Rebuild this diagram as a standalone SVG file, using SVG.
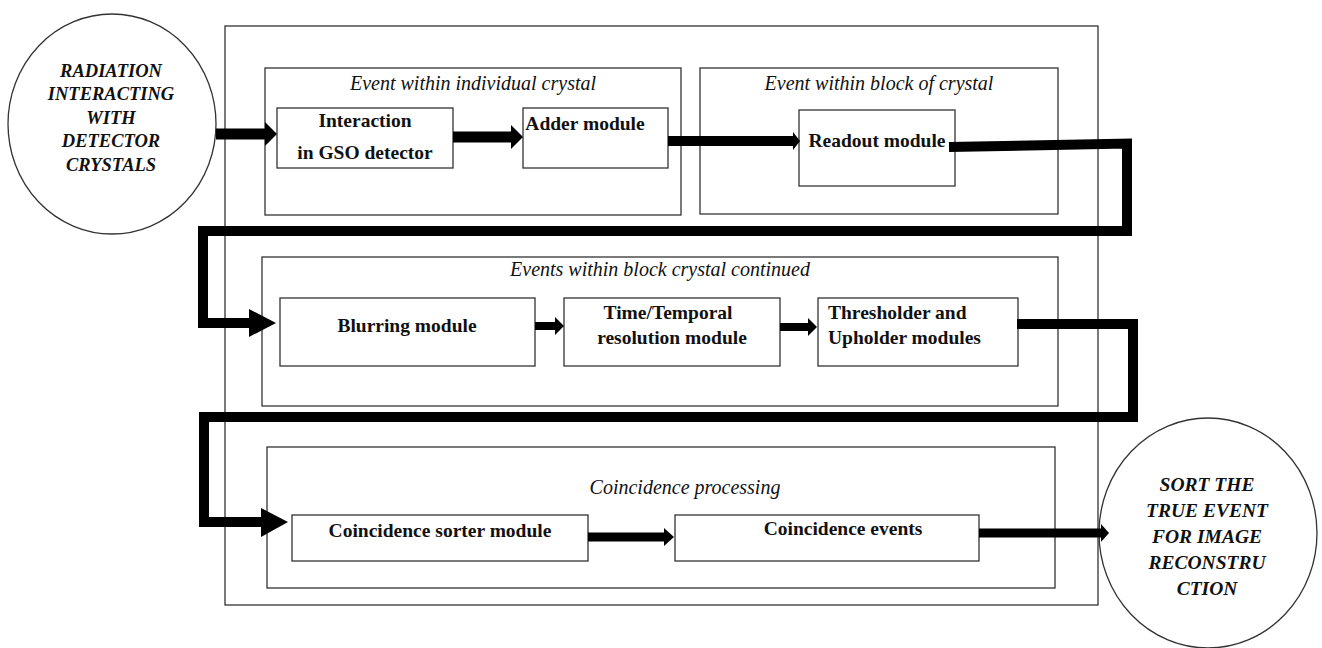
<svg xmlns="http://www.w3.org/2000/svg" width="1322" height="648" viewBox="0 0 1322 648">
<style>
.box{fill:#fff;stroke:#333;stroke-width:1.3}
.frame{fill:none;stroke:#333;stroke-width:1.3}
.ell{fill:#fff;stroke:#333;stroke-width:1.3}
.lbl{font-family:"Liberation Serif","Times New Roman",serif;font-weight:bold;font-size:19.5px;fill:#111}
.ttl{font-family:"Liberation Serif","Times New Roman",serif;font-style:italic;font-size:20px;fill:#111}
.etx{font-family:"Liberation Serif","Times New Roman",serif;font-style:italic;font-weight:bold;font-size:18.5px;fill:#111;text-anchor:middle}
.c{text-anchor:middle}
.wire{fill:none;stroke:#000;stroke-width:10;stroke-linejoin:miter}
.head{fill:#000}
</style>

<g id="outer-frame"><rect class="frame" x="225" y="26" width="873" height="579"/></g>

<g id="group-individual">
  <rect class="box" x="265" y="68" width="416" height="147"/>
  <text class="ttl c" x="473" y="90">Event within individual crystal</text>
</g>
<g id="group-block">
  <rect class="box" x="700" y="68" width="358" height="146"/>
  <text class="ttl c" x="879" y="90">Event within block of crystal</text>
</g>
<g id="group-continued">
  <rect class="box" x="262" y="257" width="796" height="149"/>
  <text class="ttl c" x="660" y="276">Events within block crystal continued</text>
</g>
<g id="group-coincidence">
  <rect class="box" x="267" y="447" width="788" height="141"/>
  <text class="ttl c" x="685" y="494">Coincidence processing</text>
</g>

<g id="radiation">
  <ellipse class="ell" cx="112" cy="124" rx="104" ry="110"/>
  <text class="etx" x="111" y="77">RADIATION</text>
  <text class="etx" x="111" y="100">INTERACTING</text>
  <text class="etx" x="111" y="124">WITH</text>
  <text class="etx" x="111" y="147">DETECTOR</text>
  <text class="etx" x="111" y="171">CRYSTALS</text>
</g>

<g id="interaction">
  <rect class="box" x="277" y="108" width="176" height="60"/>
  <text class="lbl c" x="365" y="127">Interaction</text>
  <text class="lbl c" x="365" y="159">in GSO detector</text>
</g>
<g id="adder">
  <rect class="box" x="523" y="108" width="145" height="60"/>
  <text class="lbl c" x="585" y="130">Adder module</text>
</g>
<g id="readout">
  <rect class="box" x="799" y="110" width="156" height="76"/>
  <text class="lbl c" x="877" y="147">Readout module</text>
</g>
<g id="blurring">
  <rect class="box" x="280" y="298" width="255" height="68"/>
  <text class="lbl c" x="407" y="332">Blurring module</text>
</g>
<g id="temporal">
  <rect class="box" x="564" y="298" width="216" height="68"/>
  <text class="lbl c" x="668" y="319">Time/Temporal</text>
  <text class="lbl c" x="672" y="344">resolution module</text>
</g>
<g id="thresholder">
  <rect class="box" x="818" y="298" width="200" height="68"/>
  <text class="lbl" x="828" y="319">Thresholder and</text>
  <text class="lbl" x="828" y="344">Upholder modules</text>
</g>
<g id="sorter">
  <rect class="box" x="292" y="515" width="296" height="46"/>
  <text class="lbl c" x="440" y="537">Coincidence sorter module</text>
</g>
<g id="events">
  <rect class="box" x="675" y="515" width="304" height="46"/>
  <text class="lbl c" x="843" y="535">Coincidence events</text>
</g>

<g id="sort-true">
  <ellipse class="ell" cx="1208" cy="533" rx="109" ry="115"/>
  <text class="etx" x="1207" y="491" style="font-size:19.5px">SORT THE</text>
  <text class="etx" x="1207" y="517" style="font-size:19.5px">TRUE EVENT</text>
  <text class="etx" x="1207" y="543" style="font-size:19.5px">FOR IMAGE</text>
  <text class="etx" x="1207" y="569" style="font-size:19.5px">RECONSTRU</text>
  <text class="etx" x="1207" y="595" style="font-size:19.5px">CTION</text>
</g>

<g id="connectors">
  <!-- radiation -> interaction -->
  <path class="wire" d="M216,134 H267" style="stroke-width:11"/>
  <polygon class="head" points="265,122 277,134 265,146"/>
  <!-- interaction -> adder -->
  <path class="wire" d="M453,137 H512" style="stroke-width:11"/>
  <polygon class="head" points="511,125 523,137 511,149"/>
  <!-- adder -> readout -->
  <path class="wire" d="M668,141 H795" style="stroke-width:10"/>
  <polygon class="head" points="793,132 800,141 793,150"/>
  <!-- readout -> blurring -->
  <path class="wire" d="M949,147 L1127,143.5 V231 H203 V323 H252"/>
  <polygon class="head" points="249,309 276,323 249,337"/>
  <!-- blurring -> temporal -->
  <path class="wire" d="M535,326 H556" style="stroke-width:8"/>
  <polygon class="head" points="555,317 564,326 555,335"/>
  <!-- temporal -> thresholder -->
  <path class="wire" d="M780,327 H809" style="stroke-width:8"/>
  <polygon class="head" points="808,318 817,327 808,336"/>
  <!-- thresholder -> sorter -->
  <path class="wire" d="M1017,324 H1133 V417 H204 V522 H263"/>
  <polygon class="head" points="261,508 288,522 261,537"/>
  <!-- sorter -> events -->
  <path class="wire" d="M588,537 H666" style="stroke-width:9"/>
  <polygon class="head" points="664,528 674,537 664,546"/>
  <!-- events -> sort the true event -->
  <path class="wire" d="M979,533 H1103" style="stroke-width:9"/>
  <polygon class="head" points="1101,524 1109,533 1101,542"/>
</g>
</svg>
